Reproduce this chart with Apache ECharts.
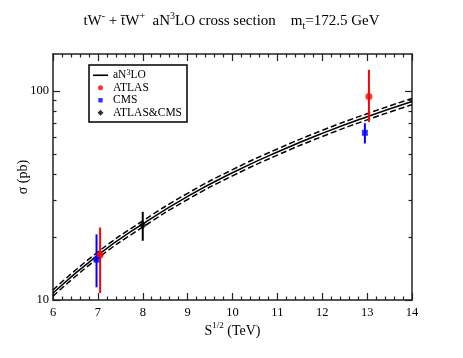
<!DOCTYPE html>
<html>
<head>
<meta charset="utf-8">
<script src="https://cdn.jsdelivr.net/npm/echarts@6/dist/echarts.min.js"></script>
<style>
  html, body { margin: 0; padding: 0; background: #fff; }
  #main { width: 463px; height: 358px; }
</style>
</head>
<body>
<div id="main"></div>
<script>
// theory curve (aN3LO) with its scale band
var energies = [6, 7, 8, 9, 10, 11, 12, 13, 14];
var central  = [10.8, 16.4, 23.1, 31.3, 40.6, 51.0, 62.6, 75.2, 88.9];
var upper    = [11.17, 16.96, 23.89, 32.36, 41.98, 52.73, 64.73, 77.76, 91.92];
var lower    = [10.43, 15.84, 22.31, 30.24, 39.22, 49.27, 60.47, 72.64, 85.88];

// measurements
var atlasX = [7.05, 13.04];
var atlasY = [16.4, 94];
var atlasLo = [10.8, 71];
var atlasHi = [22.2, 126];

var cmsX = [6.97, 12.95];
var cmsY = [15.6, 63];
var cmsLo = [11.5, 56];
var cmsHi = [20.6, 70];

var comboX = [8];
var comboY = [22.8];
var comboLo = [19.2];
var comboHi = [26.4];

var xTicks = [6, 7, 8, 9, 10, 11, 12, 13, 14];
var yMajor = [10, 100];
var yMinor = [20, 30, 40, 50, 60, 70, 80, 90];

var serif = 'Liberation Serif';
var axisColor = '#222';

// legend icons: 15x7 box, first two moves fix the bounding box
var iconLine = 'path://M0,0M15,7M0,2.7L15,2.7L15,4.3L0,4.3Z';
var iconDot = 'path://M0,0M15,7M10,3.5A2.5,2.5,0,1,1,5,3.5A2.5,2.5,0,1,1,10,3.5Z';
var iconSquare = 'path://M0,0M15,7M5.3,1.3L9.7,1.3L9.7,5.7L5.3,5.7Z';
var iconDiamond = 'path://M0,0M15,7M7.5,0.5L10.5,3.5L7.5,6.5L4.5,3.5Z';

function pairs(xs, ys) {
	return xs.map(function (x, i) { return [x, ys[i]]; });
}
function bars(xs, lo, hi) {
	return xs.map(function (x, i) { return [x, lo[i], hi[i]]; });
}
function errorBar(color) {
	return function (params, api) {
		var a = api.coord([api.value(0), api.value(1)]);
		var b = api.coord([api.value(0), api.value(2)]);
		return {
			type: 'line',
			shape: { x1: a[0], y1: a[1], x2: b[0], y2: b[1] },
			style: { stroke: color, lineWidth: 2 }
		};
	};
}

function xAxisDef(pos, labels) {
	return {
		type: 'value', position: pos, min: 6, max: 14, interval: 1,
		axisLine: { show: true, onZero: false, lineStyle: { color: axisColor, width: 1.5 } },
		axisTick: { show: true, inside: true, length: 7, lineStyle: { color: axisColor, width: 1.2 } },
		minorTick: { show: true, splitNumber: 5, length: 3.5, lineStyle: { color: axisColor, width: 1.2 } },
		axisLabel: { show: labels, margin: 6, color: '#000', fontFamily: serif, fontSize: 12.5 },
		splitLine: { show: false }
	};
}
function yAxisDef(pos, values, len, labels, line) {
	return {
		type: 'log', logBase: 10, position: pos, min: 10, max: 150,
		axisLine: { show: line, onZero: false, lineStyle: { color: axisColor, width: 1.5 } },
		axisTick: { show: true, inside: true, length: len, customValues: values, lineStyle: { color: axisColor, width: 1.2 } },
		axisLabel: { show: labels, customValues: values, margin: 4, color: '#000', fontFamily: serif, fontSize: 12.5 },
		splitLine: { show: false }
	};
}

var chart = echarts.init(document.getElementById('main'));

var xBottom = xAxisDef('bottom', true);
xBottom.name = 'S{sup|1/2} (TeV)';
xBottom.nameLocation = 'middle';
xBottom.nameGap = 21;
xBottom.nameMoveOverlap = false;
xBottom.nameTextStyle = {
	fontFamily: serif, fontSize: 14, color: '#000', lineHeight: 20,
	rich: { sup: { fontFamily: serif, fontSize: 9, verticalAlign: 'top', color: '#000', lineHeight: 9 } }
};

var yLeft = yAxisDef('left', yMajor, 7, true, true);
yLeft.name = 'σ (pb)';
yLeft.nameLocation = 'middle';
yLeft.nameGap = 23;
yLeft.nameMoveOverlap = false;
yLeft.nameTextStyle = { fontFamily: serif, fontSize: 14, color: '#000' };

chart.setOption({
	animation: false,
	backgroundColor: '#fff',
	title: {
		text: 'tW{sup|-} + t\u0304W{sup|+}  aN{sup|3}LO cross section    m{sub|t}=172.5 GeV',
		left: 'center',
		top: 6,
		textStyle: {
			fontFamily: serif, fontSize: 15, fontWeight: 'normal', color: '#000', lineHeight: 20,
			rich: {
				sup: { fontFamily: serif, fontSize: 10, verticalAlign: 'top', color: '#000' },
				sub: { fontFamily: serif, fontSize: 10, verticalAlign: 'bottom', color: '#000' }
			}
		}
	},
	legend: {
		orient: 'vertical',
		left: 89, top: 65,
		padding: [4, 5, 3, 4],
		borderColor: '#000', borderWidth: 1.5,
		itemWidth: 15, itemHeight: 7, itemGap: 0,
		data: [
			{ name: 'aN3LO', icon: iconLine },
			{ name: 'ATLAS', icon: iconDot },
			{ name: 'CMS', icon: iconSquare },
			{ name: 'ATLAS&CMS', icon: iconDiamond }
		],
		formatter: function (name) { return name === 'aN3LO' ? 'aN{sup|3}LO' : name; },
		textStyle: {
			fontFamily: serif, fontSize: 11.5, color: '#000', lineHeight: 12.5,
			rich: { sup: { fontFamily: serif, fontSize: 8, verticalAlign: 'top', color: '#000', lineHeight: 8 } }
		}
	},
	grid: { left: 53, right: 51, top: 54, bottom: 58, containLabel: false },
	xAxis: [xBottom, xAxisDef('top', false)],
	yAxis: [
		yLeft,
		yAxisDef('left', yMinor, 3.5, false, false),
		yAxisDef('right', yMajor, 7, false, true),
		yAxisDef('right', yMinor, 3.5, false, false)
	],
	series: [
		{
			name: 'aN3LO', type: 'line', data: pairs(energies, central),
			smooth: true, symbol: 'none', itemStyle: { color: '#000' },
			lineStyle: { color: '#000', width: 1.5 }, z: 3
		},
		{
			name: 'upper', type: 'line', data: pairs(energies, upper),
			smooth: true, symbol: 'none', itemStyle: { color: '#000' },
			lineStyle: { color: '#000', width: 1.5, type: [6, 3] }, z: 3
		},
		{
			name: 'lower', type: 'line', data: pairs(energies, lower),
			smooth: true, symbol: 'none', itemStyle: { color: '#000' },
			lineStyle: { color: '#000', width: 1.5, type: [6, 3] }, z: 3
		},
		{
			name: 'atlasErr', type: 'custom', renderItem: errorBar('#ff0000'),
			data: bars(atlasX, atlasLo, atlasHi), encode: { x: 0, y: [1, 2] }, z: 4
		},
		{
			name: 'cmsErr', type: 'custom', renderItem: errorBar('#0000ff'),
			data: bars(cmsX, cmsLo, cmsHi), encode: { x: 0, y: [1, 2] }, z: 4
		},
		{
			name: 'comboErr', type: 'custom', renderItem: errorBar('#000000'),
			data: bars(comboX, comboLo, comboHi), encode: { x: 0, y: [1, 2] }, z: 4
		},
		{
			name: 'ATLAS', type: 'scatter', data: pairs(atlasX, atlasY),
			symbol: 'circle', symbolSize: 7, itemStyle: { color: '#ff0000' }, z: 5
		},
		{
			name: 'CMS', type: 'scatter', data: pairs(cmsX, cmsY),
			symbol: 'rect', symbolSize: 6, itemStyle: { color: '#0000ff' }, z: 5
		},
		{
			name: 'ATLAS&CMS', type: 'scatter', data: pairs(comboX, comboY),
			symbol: 'diamond', symbolSize: 8, itemStyle: { color: '#000000' }, z: 5
		}
	]
});
</script>
</body>
</html>
